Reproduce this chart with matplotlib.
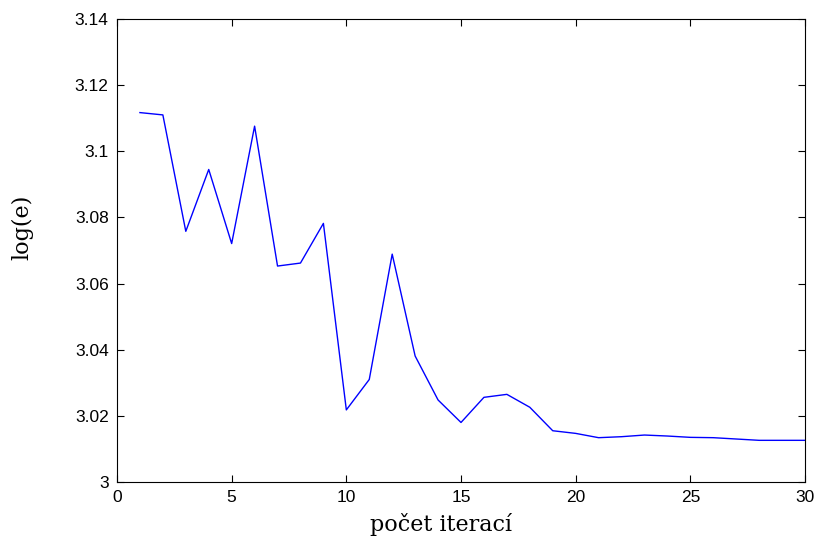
import numpy as np
import matplotlib
matplotlib.use("Agg")
import matplotlib.pyplot as plt

iterations = list(range(1, 31))
log_e = [3.1117, 3.1110, 3.0758, 3.0945, 3.0721, 3.1076, 3.0653, 3.0662, 3.0782, 3.0218,
         3.0310, 3.0689, 3.0381, 3.0248, 3.0180, 3.0256, 3.0265, 3.0226, 3.0155, 3.0147,
         3.0134, 3.0137, 3.0142, 3.0139, 3.0135, 3.0134, 3.0130, 3.0126, 3.0126, 3.0126]

x_ticks = [0, 5, 10, 15, 20, 25, 30]
y_ticks = [3.0, 3.02, 3.04, 3.06, 3.08, 3.1, 3.12, 3.14]
y_tick_labels = ["3", "3.02", "3.04", "3.06", "3.08", "3.1", "3.12", "3.14"]

fig = plt.figure(figsize=(8.19, 5.40), dpi=100)
ax = fig.add_axes([117 / 819, 58 / 540, 688 / 819, 463 / 540])

ax.plot(iterations, log_e, color="#0000ff", lw=1.0)

ax.set_xlim(0, 30)
ax.set_ylim(3.0, 3.14)
ax.set_xticks(x_ticks)
ax.set_xticklabels([str(t) for t in x_ticks], fontsize=12.5, family="Liberation Sans")
ax.set_yticks(y_ticks)
ax.set_yticklabels(y_tick_labels, fontsize=12.5, family="Liberation Sans")
ax.tick_params(direction="in", length=5, width=0.8, top=True, right=True,
               labeltop=False, labelright=False, pad=6)
for sp in ax.spines.values():
    sp.set_linewidth(0.8)

ax.set_xlabel("počet iterací", fontsize=16, family="DejaVu Serif")
ax.xaxis.set_label_coords(0.471, -0.066)
ax.set_ylabel("log(e)", fontsize=16, family="DejaVu Serif")
ax.yaxis.set_label_coords(-0.122, 0.551)

fig.savefig("out.png", dpi=100)
